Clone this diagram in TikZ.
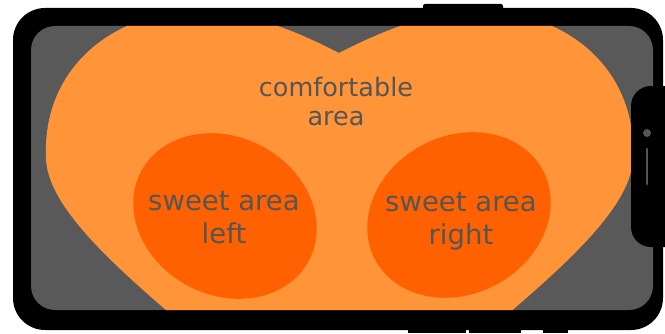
\documentclass[tikz,border=0pt]{standalone}
\usepackage{fontspec}
\setmainfont{DejaVu Sans}
\usepackage{tikz}
\usetikzlibrary{positioning}

\definecolor{screengray}{HTML}{595959}
\definecolor{comfyorange}{HTML}{FF9538}
\definecolor{sweetorange}{HTML}{FF6100}
\definecolor{labelgray}{HTML}{555555}

\begin{document}
\begin{tikzpicture}[x=1pt, y=1pt,
                body/.style={fill=black, rounded corners=32},
                screen/.style={fill=screengray, rounded corners=24},
                comfy/.style={fill=comfyorange},
                sweet/.style={fill=sweetorange},
                arealabel/.style={text=labelgray, align=center, inner sep=0pt},
                bigfont/.style={font=\fontsize{25.5}{29}\selectfont},
                sweetfont/.style={font=\fontsize{27.5}{33}\selectfont}
            ]
            \useasboundingbox (0,0) rectangle (665,333);
            \clip (0,0) rectangle (665,333);

            % Gehaeuse
            \fill[black, rounded corners=2] (423,320) rectangle (503,329);
            \fill[black] (408,0) rectangle (466,5);
            \fill[black] (469,0) rectangle (521,5);
            \fill[black] (543,0) rectangle (568,5);
            \fill[body] (13,3) rectangle (663,325);

            % Bildschirm
            \fill[screen] (31,23) rectangle (653,307);
            \begin{scope}
                \clip[rounded corners=24] (31,23) rectangle (653,307);
                \fill[comfy] (339,280) .. controls (300,300) and (250,322) .. (200,322)
                    .. controls (110,322) and (42,262) .. (46,175)
                    .. controls (48,98) and (212,-5) .. (339,-128)
                    .. controls (466,-5) and (631,98) .. (633,175)
                    .. controls (637,262) and (569,322) .. (479,322)
                    .. controls (428,322) and (378,300) .. (339,280) -- cycle;
                \fill[sweet, rotate around={-28:(225,117)}] (225,117) ellipse [x radius=95, y radius=79];
                \fill[sweet, rotate around={28:(459,118)}] (459,118) ellipse [x radius=95, y radius=79];
            \end{scope}

            % Notch mit Sensoren
            \fill[black, rounded corners=20] (631,86) rectangle (690,247);
            \fill[labelgray] (647,200) circle (4);
            \draw[labelgray, line width=2.5, line cap=round] (647,184) -- (647,149);

            % Beschriftungen
            \node[arealabel, bigfont] (comfortable) at (336,232) {comfortable\\area};
            \node[arealabel, sweetfont] (sweetleft) at (224,115) {sweet area\\left};
            \node[arealabel, sweetfont] (sweetright) at (461,111.5) {sweet area\\right};

        \end{tikzpicture}
\end{document}
